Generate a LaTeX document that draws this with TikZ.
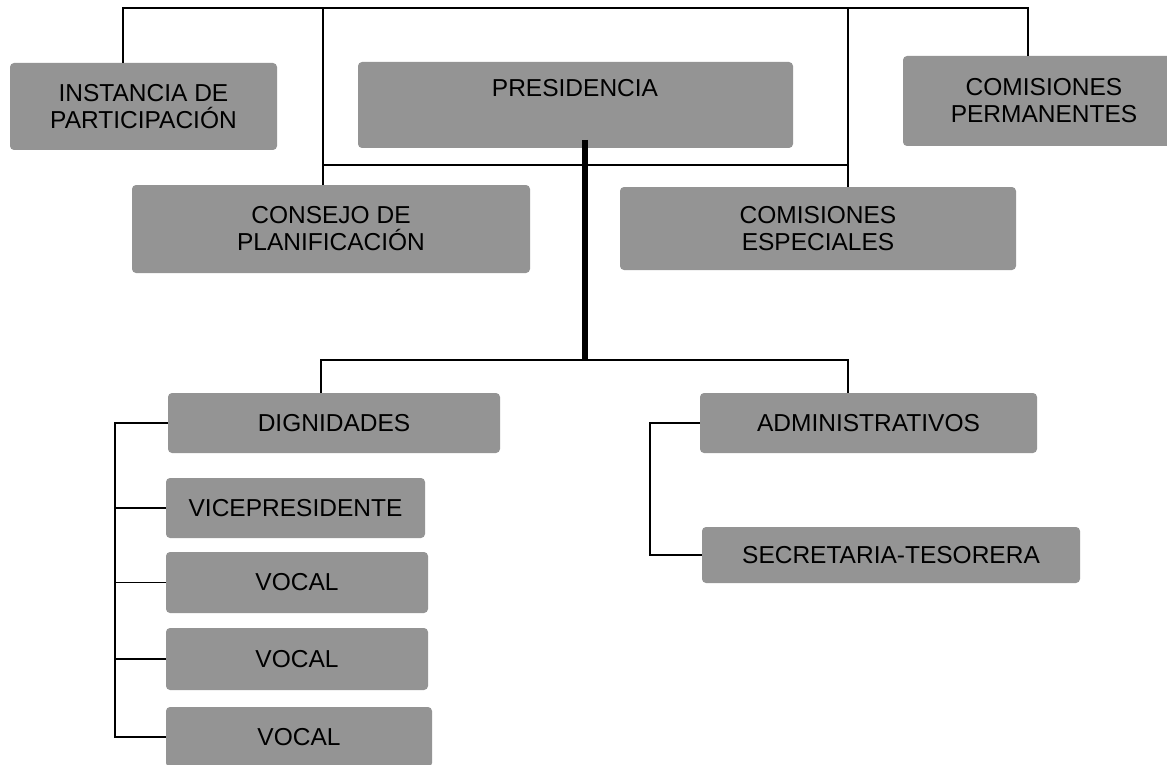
\documentclass[tikz,border=0pt]{standalone}
\usepackage{fontspec}
\setmainfont{Liberation Sans}
\begin{document}
\begin{tikzpicture}[x=1pt,y=-1pt,
  orgbox/.style={fill=black!42, rounded corners=4pt, inner sep=0pt, align=center,
    font=\fontsize{24.5}{27}\selectfont, text=black},
  txt/.style={inner sep=0pt, align=center, font=\fontsize{24.5}{27}\selectfont, text=black},
  thin/.style={draw=black, line width=1.8pt},
  thick/.style={draw=black, line width=5.5pt}]
\path[use as bounding box, clip] (0,0) rectangle (1167,765);
\fill[white] (0,0) rectangle (1167,765);
% boxes
\node[orgbox, minimum width=267pt, minimum height=87pt] (inst) at (143.5,106.5) {INSTANCIA DE\\PARTICIPACIÓN};
\node[orgbox, minimum width=435pt, minimum height=86pt] (pres) at (575.5,105) {};
\node[txt] (prestxt) at (575,88) {PRESIDENCIA};
\node[orgbox, minimum width=282pt, minimum height=90pt] (perm) at (1044,101) {COMISIONES\\PERMANENTES};
\node[orgbox, minimum width=398pt, minimum height=88pt] (cons) at (331,229) {CONSEJO DE\\PLANIFICACIÓN};
\node[orgbox, minimum width=396pt, minimum height=83pt] (esp) at (818,228.5) {COMISIONES\\ESPECIALES};
\node[orgbox, minimum width=332pt, minimum height=60pt] (dign) at (334,423) {DIGNIDADES};
\node[orgbox, minimum width=259pt, minimum height=60pt] (vice) at (295.5,508) {VICEPRESIDENTE};
\node[orgbox, minimum width=262pt, minimum height=61pt] (voc1) at (297,582.5) {VOCAL};
\node[orgbox, minimum width=262pt, minimum height=62pt] (voc2) at (297,659) {VOCAL};
\node[orgbox, minimum width=266pt, minimum height=60pt] (voc3) at (299,737) {VOCAL};
\node[orgbox, minimum width=337pt, minimum height=60pt] (admin) at (868.5,423) {ADMINISTRATIVOS};
\node[orgbox, minimum width=378pt, minimum height=56pt] (sec) at (891,555) {SECRETARIA-TESORERA};
% junction coordinates
\coordinate (tl) at (123,8);
\coordinate (tc) at (323,8);
\coordinate (td) at (848,8);
\coordinate (tr) at (1028,8);
\coordinate (ml) at (323,165);
\coordinate (mr) at (848,165);
\coordinate (pb) at (585,140);
\coordinate (pj) at (585,360);
\coordinate (bl) at (321,360);
\coordinate (br) at (848,360);
\coordinate (lx) at (115,0);
\coordinate (rx) at (650,0);
% top level connectors
\draw[thin] (inst.north -| tl) -- (tl) -- (tr) -- (perm.north -| tr);
\draw[thin] (tc) -- (cons.north -| tc);
\draw[thin] (td) -- (esp.north -| td);
\draw[thin] (ml) -- (mr);
% main trunk
\draw[thick] (pb) -- (pj);
\draw[thin] (dign.north -| bl) -- (bl) -- (br) -- (admin.north -| br);
% left bracket
\draw[thin] (dign.west) -- (dign.west -| lx) -- (voc3.west -| lx) -- (voc3.west);
\draw[thin] (vice.west -| lx) -- (vice.west);
\draw[thin] (voc1.west -| lx) -- (voc1.west);
\draw[thin] (voc2.west -| lx) -- (voc2.west);
% right bracket
\draw[thin] (admin.west) -- (admin.west -| rx) -- (sec.west -| rx) -- (sec.west);
\end{tikzpicture}
\end{document}
